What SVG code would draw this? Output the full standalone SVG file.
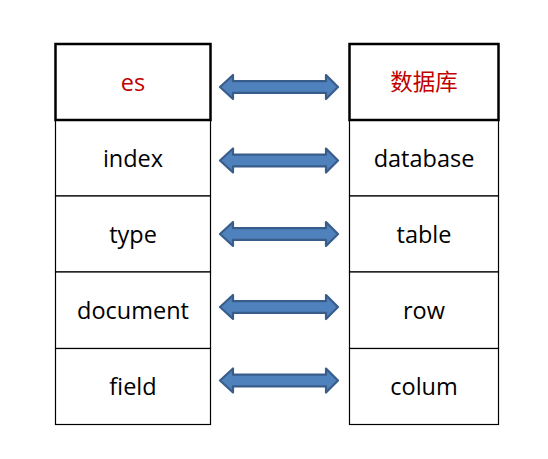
<svg xmlns="http://www.w3.org/2000/svg" width="548" height="459" viewBox="0 0 548 459">
<style>
.cell{fill:#fff;stroke:#000;stroke-width:1.2}
.head{fill:#fff;stroke:#000;stroke-width:2.5}
.t{font-family:"Open Sans","Noto Sans","Noto Sans CJK SC",sans-serif;font-size:23.5px;fill:#000;text-anchor:middle}
.r{fill:#C00000}
.cjk{font-family:"Noto Sans CJK SC",sans-serif;font-size:22.5px}
.arr{fill:#4F81BD;stroke:#385D8A;stroke-width:2.2;stroke-linejoin:round}
</style>
<defs>
<path id="dblarrow" d="M220,0 L233,-12 L233,-5.8 L326,-5.8 L326,-12 L338,0 L326,12 L326,5.8 L233,5.8 L233,12 Z"/>
</defs>
<rect width="548" height="459" fill="#fff"/>
<g id="left-column">
<g id="node-index"><rect class="cell" x="55.5" y="120" width="155" height="76"/><text class="t" x="133" y="166.5">index</text></g>
<g id="node-type"><rect class="cell" x="55.5" y="196" width="155" height="76"/><text class="t" x="133" y="242.5">type</text></g>
<g id="node-document"><rect class="cell" x="55.5" y="272" width="155" height="76.5"/><text class="t" x="133" y="318.5">document</text></g>
<g id="node-field"><rect class="cell" x="55.5" y="348.5" width="155" height="76"/><text class="t" x="133" y="394.5">field</text></g>
<g id="node-es"><rect class="head" x="55.5" y="44" width="155" height="76"/><text class="t r" x="133" y="90.5">es</text></g>
</g>
<g id="right-column">
<g id="node-database"><rect class="cell" x="349.5" y="120" width="149" height="76"/><text class="t" x="424" y="166.5">database</text></g>
<g id="node-table"><rect class="cell" x="349.5" y="196" width="149" height="76"/><text class="t" x="424" y="242.5">table</text></g>
<g id="node-row"><rect class="cell" x="349.5" y="272" width="149" height="76.5"/><text class="t" x="424" y="318.5">row</text></g>
<g id="node-colum"><rect class="cell" x="349.5" y="348.5" width="149" height="76"/><text class="t" x="424" y="394.5">colum</text></g>
<g id="node-shujuku"><rect class="head" x="349.5" y="44" width="149" height="76"/><text class="t r cjk" x="424" y="90">数据库</text></g>
</g>
<g id="connectors">
<use href="#dblarrow" class="arr" transform="translate(0,87)"/>
<use href="#dblarrow" class="arr" transform="translate(0,160.5)"/>
<use href="#dblarrow" class="arr" transform="translate(0,234)"/>
<use href="#dblarrow" class="arr" transform="translate(0,307)"/>
<use href="#dblarrow" class="arr" transform="translate(0,380.5)"/>
</g>
</svg>
